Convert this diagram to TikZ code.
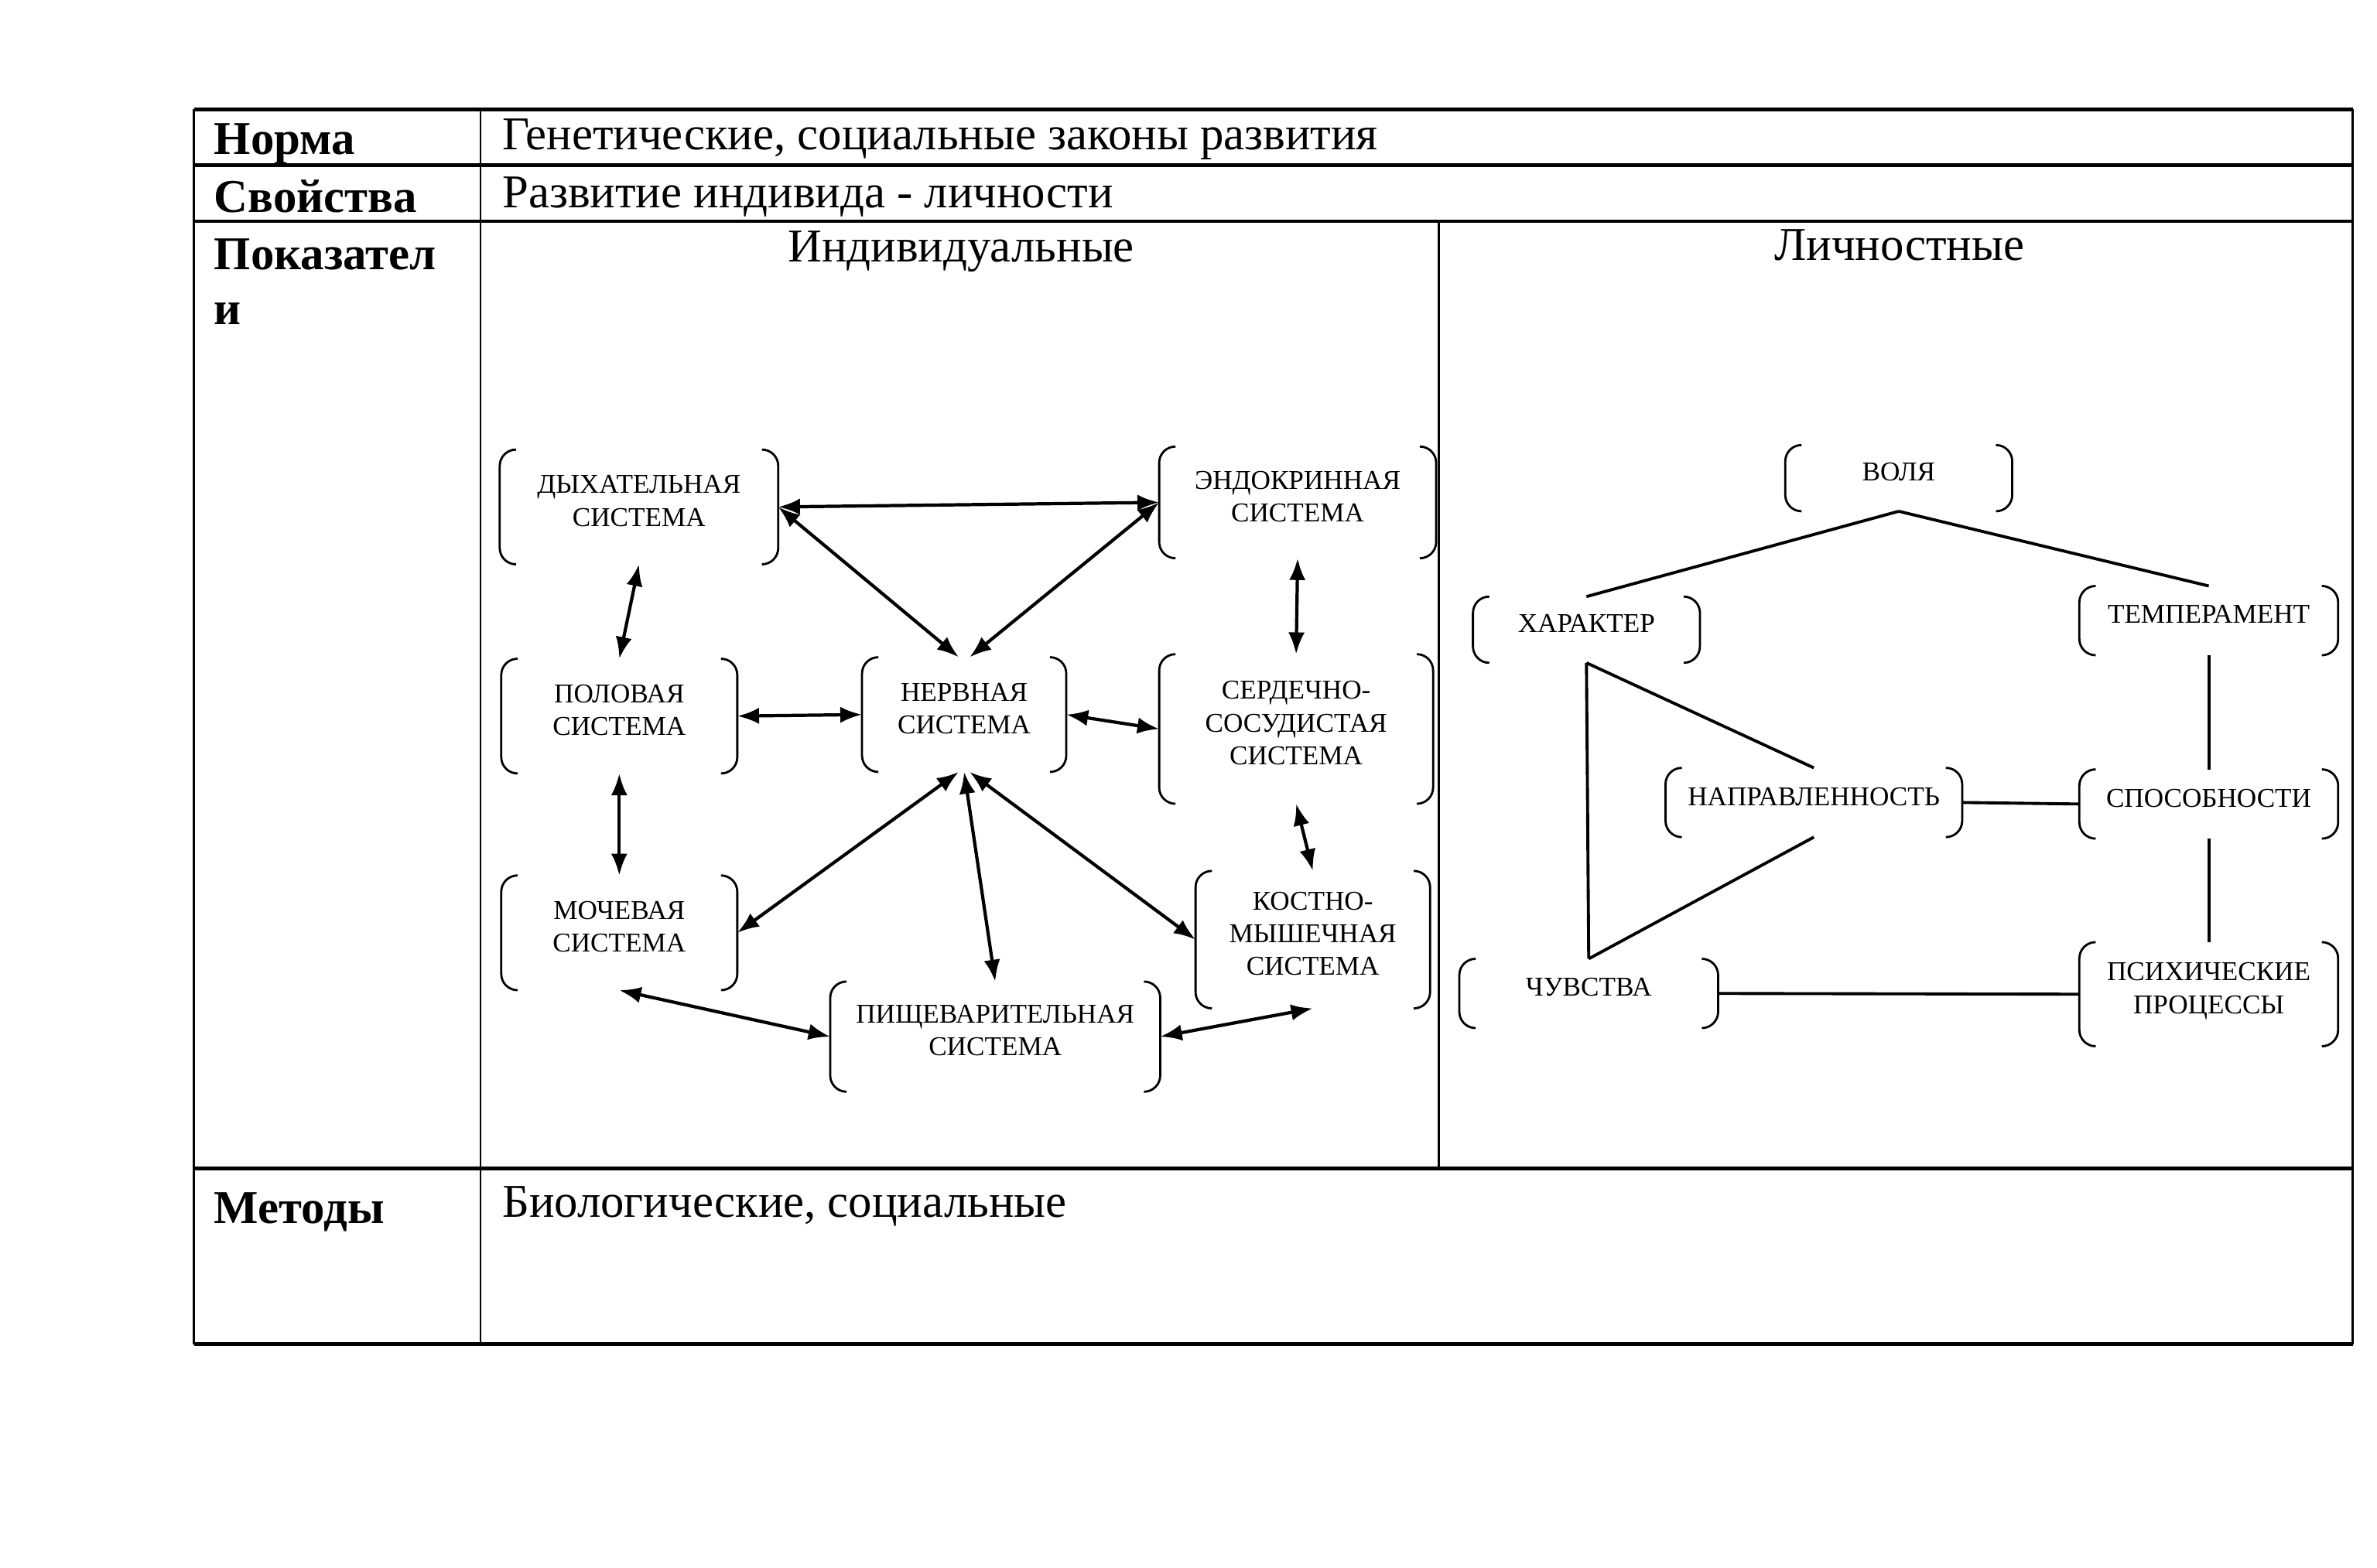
\documentclass[tikz,border=0pt]{standalone}
\usepackage{fontspec}
\setmainfont{Liberation Serif}
\usetikzlibrary{arrows.meta}

% curved side brackets round a node
\newcommand\sysbrackets[1]{%
  \draw[brk line] ([xshift=6pt]#1.north west) -- (#1.north west) -- (#1.south west) -- ([xshift=6pt]#1.south west);
  \draw[brk line] ([xshift=-6pt]#1.north east) -- (#1.north east) -- (#1.south east) -- ([xshift=-6pt]#1.south east);}

\begin{document}
\begin{tikzpicture}[x=0.1959mm,y=-0.1959mm,>={Latex[length=8pt,width=6pt]},
  grid thick/.style={line width=1.4pt},
  grid thin/.style={line width=0.8pt},
  head/.style={anchor=base west,inner sep=0pt,font=\fontsize{17.3}{20}\selectfont\bfseries},
  body/.style={anchor=base west,inner sep=0pt,font=\fontsize{17.3}{20}\selectfont},
  sys/.style={align=center,inner sep=0pt,text depth=4.5pt,font=\fontsize{10}{12}\selectfont},
  bw/.style={minimum width=#1*0.1959mm},
  bh/.style={minimum height=#1*0.1959mm},
  brk line/.style={line width=0.8pt,rounded corners=6pt},
  link/.style={line width=1.2pt},
  tie/.style={line width=1.1pt}]

  \useasboundingbox (0,0) rectangle (1568,1034.2);

  % table
  \draw[grid thick] (128,72) -- (1552,72) (128,109) -- (1552,109) (128,146) -- (1552,146)
    (128,771) -- (1552,771) (128,887) -- (1552,887);
  \draw[grid thin] (128,72) -- (128,887) (317,72) -- (317,887) (1552,72) -- (1552,887)
    (949,146) -- (949,771);

  \node[head] (norma) at (141,102) {Норма};
  \node[body] (genet) at (331,99) {Генетические, социальные законы развития};
  \node[head] (svoistva) at (141,140) {Свойства};
  \node[body] (razv) at (331,137) {Развитие индивида - личности};
  \node[head] (pokaz) at (141,178) {Показател};
  \node[head] (pokaz2) at (141,214) {и};
  \node[body,anchor=base] (indiv) at (634,173) {Индивидуальные};
  \node[body,anchor=base] (lichn) at (1253,172) {Личностные};
  \node[head] (metody) at (141,807) {Методы};
  \node[body] (biol) at (331,803) {Биологические, социальные};

  % individual systems
  \node[sys,bw=183,bh=75] (dyh) at (421.5,334.5) {ДЫХАТЕЛЬНАЯ\\СИСТЕМА};
  \node[sys,bw=182,bh=73] (endo) at (856,331.5) {ЭНДОКРИННАЯ\\СИСТЕМА};
  \node[sys,bw=155,bh=75] (pol) at (408.5,472.5) {ПОЛОВАЯ\\СИСТЕМА};
  \node[sys,bw=134,bh=75] (nerv) at (636,471.5) {НЕРВНАЯ\\СИСТЕМА};
  \node[sys,bw=180,bh=98] (serd) at (855,481) {СЕРДЕЧНО-\\СОСУДИСТАЯ\\СИСТЕМА};
  \node[sys,bw=155,bh=75] (moch) at (408.5,615.5) {МОЧЕВАЯ\\СИСТЕМА};
  \node[sys,bw=154,bh=90] (kost) at (866,620) {КОСТНО-\\МЫШЕЧНАЯ\\СИСТЕМА};
  \node[sys,bw=217,bh=72] (pishch) at (656.5,684) {ПИЩЕВАРИТЕЛЬНАЯ\\СИСТЕМА};

  % personal traits
  \node[sys,bw=149,bh=43] (volya) at (1252.5,315.5) {ВОЛЯ};
  \node[sys,bw=149,bh=43] (har) at (1046.5,415.5) {ХАРАКТЕР};
  \node[sys,bw=170,bh=45] (temp) at (1457,409.5) {ТЕМПЕРАМЕНТ};
  \node[sys,bw=195,bh=45] (napr) at (1196.5,529.5) {НАПРАВЛЕННОСТЬ};
  \node[sys,bw=170,bh=45] (spos) at (1457,530.5) {СПОСОБНОСТИ};
  \node[sys,bw=170,bh=45] (chuv) at (1048,655.5) {ЧУВСТВА};
  \node[sys,bw=170,bh=68] (psih) at (1457,656) {ПСИХИЧЕСКИЕ\\ПРОЦЕССЫ};

  \foreach \n in {dyh,endo,pol,nerv,serd,moch,kost,pishch,volya,har,temp,napr,spos,chuv,psih}
    {\sysbrackets{\n}}

  \path[<->,link]
    (dyh.east) edge (endo.west)
    (dyh.east) edge ([xshift=-2pt]nerv.north)
    (endo.west) edge ([xshift=2pt]nerv.north)
    (dyh.south) edge (pol.north)
    (endo.south) edge (serd.north)
    (pol.east) edge (nerv.west)
    (nerv.east) edge (serd.west)
    (pol.south) edge (moch.north)
    ([xshift=-2pt]nerv.south) edge (moch.east)
    (nerv.south) edge (pishch.north)
    ([xshift=2pt]nerv.south) edge (kost.west)
    (serd.south) edge (kost.north)
    (moch.south) edge (pishch.west)
    (pishch.east) edge (kost.south);

  \path[tie]
    (volya.south) edge (har.north)
    (volya.south) edge (temp.north)
    (har.south) edge (chuv.north)
    (har.south) edge (napr.north)
    (chuv.north) edge (napr.south)
    (napr.east) edge (spos.west)
    (temp.south) edge (spos.north)
    (spos.south) edge (psih.north)
    (chuv.east) edge (psih.west);

\end{tikzpicture}
\end{document}
